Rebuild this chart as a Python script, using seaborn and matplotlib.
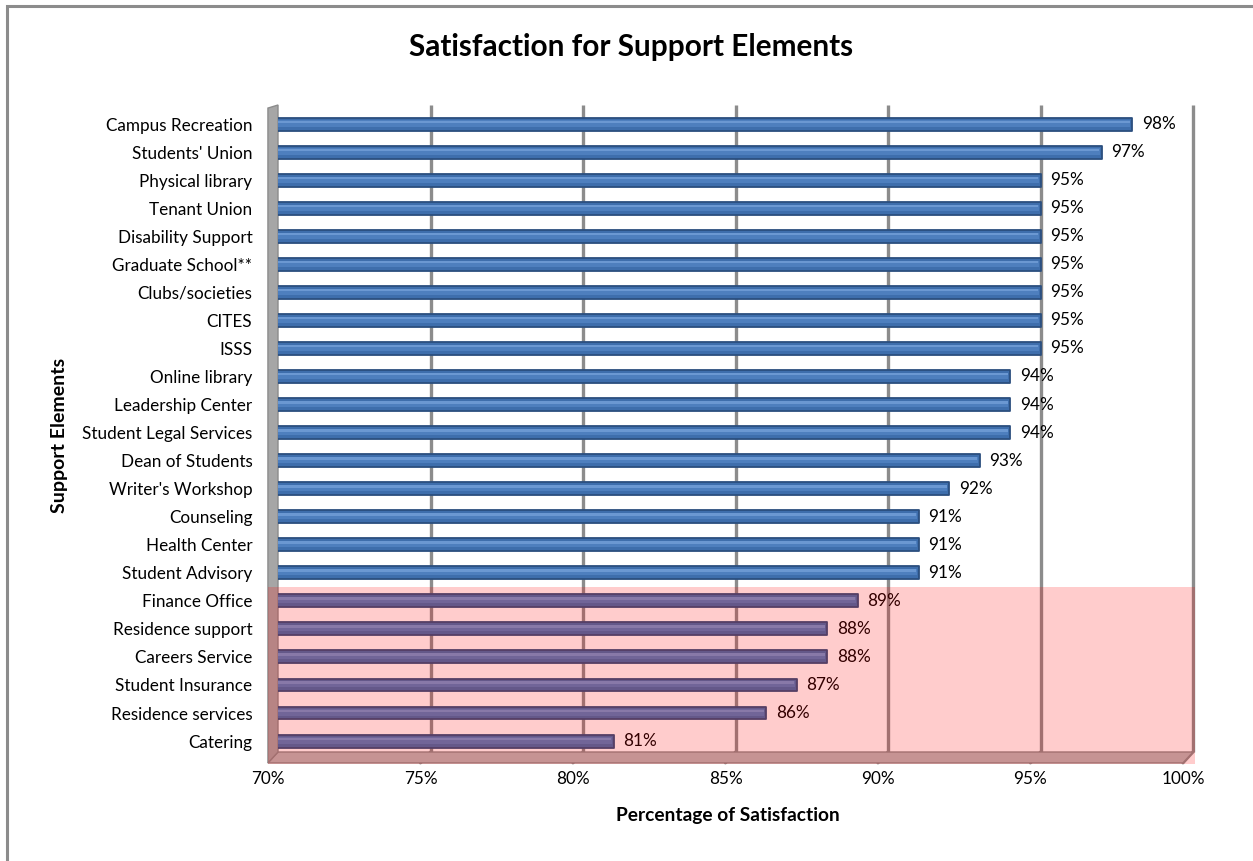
import numpy as np
import pandas as pd
import matplotlib
matplotlib.use("Agg")
import matplotlib.pyplot as plt
from matplotlib.patches import Polygon, Rectangle
from matplotlib.transforms import ScaledTranslation
import seaborn as sns

# Satisfaction data (percent) per support element, top to bottom
categories = [
    "Campus Recreation", "Students' Union", "Physical library", "Tenant Union",
    "Disability Support", "Graduate School**", "Clubs/societies", "CITES", "ISSS",
    "Online library", "Leadership Center", "Student Legal Services",
    "Dean of Students", "Writer's Workshop", "Counseling", "Health Center",
    "Student Advisory", "Finance Office", "Residence support", "Careers Service",
    "Student Insurance", "Residence services", "Catering",
]
satisfaction = [98, 97, 95, 95, 95, 95, 95, 95, 95, 94, 94, 94, 93, 92, 91, 91, 91,
                89, 88, 88, 87, 86, 81]
x_ticks = [70, 75, 80, 85, 90, 95, 100]
x_tick_labels = ["70%", "75%", "80%", "85%", "90%", "95%", "100%"]
highlight_from = "Finance Office"   # first of the lower-satisfaction group

df = pd.DataFrame({"element": categories, "pct": satisfaction})

sns.set_theme(style="white")
FONT = ["Lato", "DejaVu Sans"]
plt.rcParams["font.family"] = FONT
for key in ("text.color", "axes.labelcolor", "xtick.color", "ytick.color"):
    plt.rcParams[key] = "black"

W, H = 1253, 861
fig = plt.figure(figsize=(W / 100, H / 100), dpi=100)
ax = fig.add_axes([278 / W, 1 - 752 / H, (1193 - 278) / W, (752 - 105) / H])

n = len(categories)
ymin, ymax = -0.68, n - 1 + 0.39
depth_x, depth_y = 0.33, 0.39   # perspective offset of the front plane

# cylinder-like bars: body, then lighter stripes toward the top
sns.barplot(data=df, x="pct", y="element", orient="h", color="#3E6EAC",
            saturation=1, width=0.46, edgecolor="#2B4E7E", linewidth=1.3,
            ax=ax, zorder=3)
for p in ax.patches:
    p.set_joinstyle("round")
ypos = np.arange(n)
vals = np.array(satisfaction, dtype=float)
ax.barh(ypos - 0.02, vals - 0.05, height=0.22, color="#4E7FBE", linewidth=0,
        zorder=4)
ax.barh(ypos - 0.08, vals - 0.08, height=0.09, color="#6B98D2", linewidth=0,
        zorder=4)

ax.set_xlim(70, 100)
ax.set_ylim(ymax, ymin)

# back-wall gridlines and their slant onto the floor
for v in x_ticks[1:]:
    ax.plot([v, v], [ymin, ymax], color="#8C8C8C", lw=2.4, zorder=1,
            solid_capstyle="butt", clip_on=False)
    ax.plot([v, v - depth_x], [ymax, ymax + depth_y], color="#8C8C8C", lw=2.2,
            zorder=1, clip_on=False)

# floor and left side wall
floor = Polygon([(70, ymax), (100, ymax), (100 - depth_x, ymax + depth_y),
                 (70 - depth_x, ymax + depth_y)], closed=True,
                facecolor="#B8B8B8", edgecolor="#8C8C8C", lw=1, zorder=2,
                clip_on=False)
ax.add_patch(floor)
wall = Polygon([(70, ymin), (70 - depth_x, ymin + 0.11),
                (70 - depth_x, ymax + depth_y), (70, ymax)], closed=True,
               facecolor="#A6A6A6", edgecolor="#8C8C8C", lw=1, zorder=2,
               clip_on=False)
ax.add_patch(wall)

# value labels
for i, v in enumerate(satisfaction):
    ax.annotate(f"{v}%", xy=(v, i), xytext=(7, 0), textcoords="offset points",
                ha="left", va="center", fontsize=12.3, color="black",
                family=FONT, zorder=6)

# translucent band over the lower-satisfaction group
start = categories.index(highlight_from) - 0.5
band = Rectangle((70 - depth_x, start), 30 + depth_x + 0.05,
                 ymax + depth_y + 0.05 - start, facecolor="red", alpha=0.2,
                 edgecolor="none", zorder=10, clip_on=False)
ax.add_patch(band)

for s in ax.spines.values():
    s.set_visible(False)
ax.grid(False)

ax.set_xticks(x_ticks)
ax.set_xticklabels(x_tick_labels, fontsize=12.3, family=FONT)
ax.tick_params(axis="x", length=0, pad=14, colors="black")
shift = ScaledTranslation(-10 / 100, 0, fig.dpi_scale_trans)
for lab in ax.get_xticklabels():
    lab.set_transform(lab.get_transform() + shift)
ax.tick_params(axis="y", length=0, pad=18.5, labelsize=12.3, colors="black")
for lab in ax.get_yticklabels():
    lab.set_family(FONT)

ax.set_xlabel("Percentage of Satisfaction", fontsize=13.8, fontweight="bold",
              family=FONT, color="black")
ax.xaxis.set_label_coords((728 - 278) / (1193 - 278), -(815 - 752) / (752 - 105),
                          transform=ax.transAxes)
ax.xaxis.label.set_va("center")
ax.set_ylabel("Support Elements", fontsize=14, fontweight="bold", family=FONT,
              color="black")
ax.yaxis.set_label_coords(-(278 - 60) / (1193 - 278), (752 - 435) / (752 - 105))
ax.yaxis.label.set_va("center")

fig.text(631 / W, 1 - 47 / H, "Satisfaction for Support Elements", ha="center",
         va="center", fontsize=21.4, fontweight="bold", family=FONT,
         color="black")

# outer chart border
fig.patches.append(Rectangle((6.5 / W, -0.1), 1.2, 1 - 5.5 / H + 0.1,
                             transform=fig.transFigure, fill=False,
                             edgecolor="#8C8C8C", lw=2.2))

fig.savefig("out.png", dpi=100)
